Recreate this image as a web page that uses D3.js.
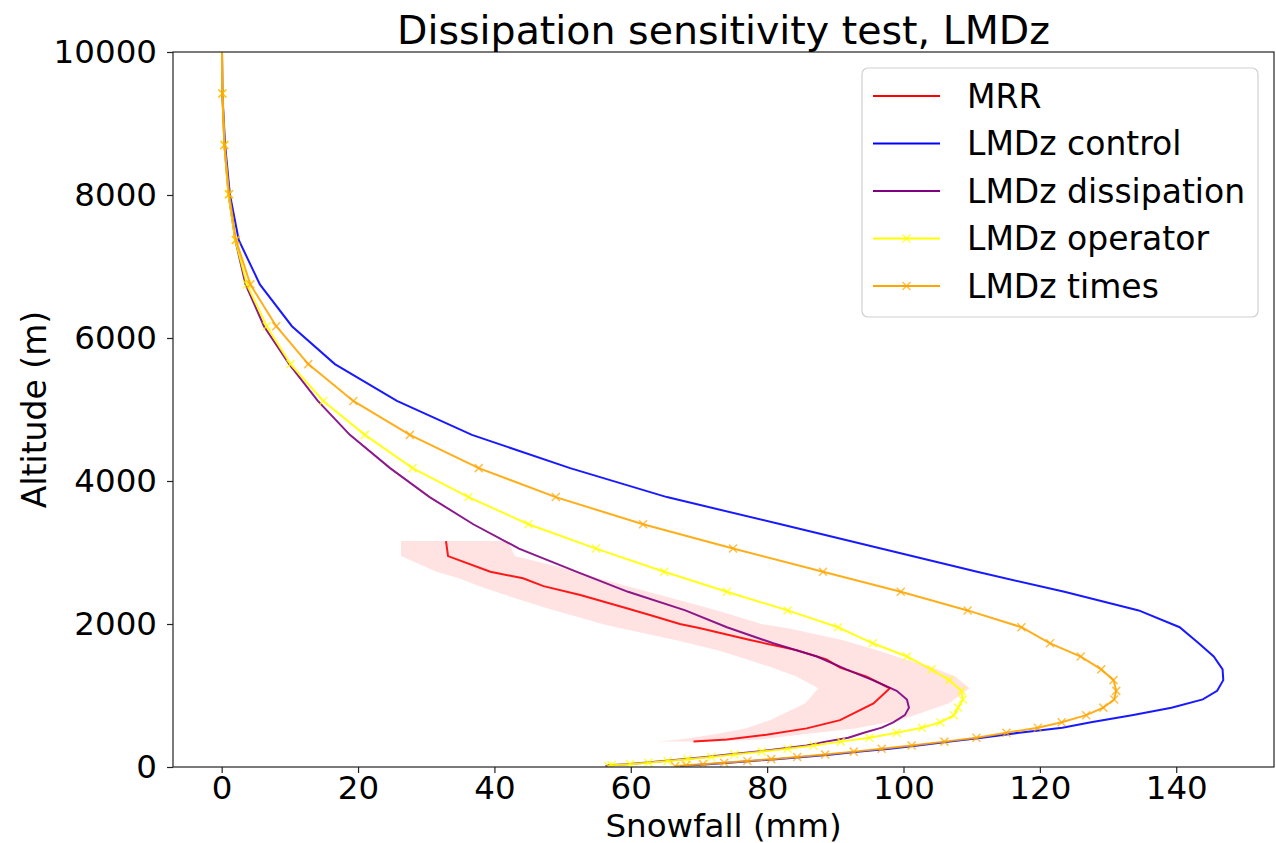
<!DOCTYPE html>
<html>
<head>
<meta charset="utf-8">
<script src="https://cdn.jsdelivr.net/npm/d3@7"></script>
<style>
    body { margin: 0; background: #fff; }
    text { font-family: "DejaVu Sans", sans-serif; fill: #000; }
</style>
</head>
<body>
<div id="chart"></div>
<script>
// model levels (m) shared by all LMDz runs
const levels = [10500, 9420, 8700, 8010, 7370, 6750, 6165, 5635, 5120, 4645, 4180, 3775, 3395, 3055, 2730, 2450, 2190, 1955, 1730, 1545, 1365, 1215, 1065, 945, 830, 725, 625, 550, 480, 410, 355, 300, 255, 215, 175, 140, 110, 85, 60, 40, 25, 12];

const control = [0.0, 0.1, 0.5, 1.2, 2.5, 5.6, 10.3, 16.6, 25.7, 36.7, 51.1, 65.3, 82.0, 96.7, 110.8, 123.6, 134.5, 140.5, 143.3, 145.5, 146.8, 146.9, 146.0, 143.9, 139.3, 133.5, 127.5, 123.3, 117.0, 111.5, 106.8, 102.1, 98.0, 93.6, 89.5, 85.3, 81.3, 77.8, 74.4, 71.3, 69.0, 67.2];
const dissipation = [0.0, 0.1, 0.4, 1.0, 2.0, 3.5, 6.2, 9.9, 14.1, 18.8, 24.7, 30.5, 36.9, 43.6, 52.1, 59.6, 68.0, 74.1, 80.9, 87.3, 91.6, 95.5, 99.0, 100.5, 100.8, 100.2, 98.5, 96.8, 94.2, 91.9, 88.6, 85.8, 82.0, 78.3, 74.3, 71.0, 67.6, 64.8, 62.0, 59.4, 56.8, 56.3];
const operator = [0.0, 0.1, 0.4, 1.0, 2.0, 3.7, 6.6, 10.1, 14.9, 21.0, 28.0, 36.2, 45.0, 54.9, 64.9, 74.1, 83.0, 90.4, 95.5, 100.5, 104.1, 106.7, 108.5, 108.7, 108.0, 107.4, 105.4, 102.7, 99.0, 95.0, 90.8, 86.8, 83.0, 79.2, 75.2, 71.8, 68.3, 65.4, 62.6, 59.9, 57.2, 56.7];
const times = [0.0, 0.1, 0.4, 1.1, 2.1, 4.2, 8.0, 12.7, 19.3, 27.6, 37.7, 49.0, 61.8, 75.0, 88.2, 99.6, 109.4, 117.3, 121.5, 126.0, 129.0, 130.8, 131.2, 130.9, 129.3, 126.8, 123.2, 119.7, 115.1, 110.7, 106.0, 101.2, 96.8, 92.7, 88.5, 84.4, 80.6, 77.1, 73.7, 70.6, 68.1, 66.5];

// MRR observations and spread
const mrrAlt = [3160, 2950, 2730, 2640, 2530, 2405, 2220, 2125, 2000, 1940, 1775, 1635, 1505, 1390, 1265, 1100, 890, 655, 540, 450, 385, 355];
const mrrSnow = [32.9, 33.2, 39.4, 44.2, 47.2, 52.6, 59.4, 62.8, 67.2, 70.2, 77.5, 84.3, 88.7, 90.7, 94.6, 98.0, 95.6, 90.7, 85.8, 79.9, 74.1, 69.2];
const mrrLow = [26.3, 26.3, 31.5, 34.8, 37.7, 41.6, 47.7, 51.2, 55.8, 58.5, 66.5, 72.6, 77.1, 80.7, 84.3, 87.5, 85.6, 80.4, 76.8, 71.9, 67.2, 64.0];
const mrrHigh = [42.0, 43.0, 52.3, 55.3, 59.4, 64.3, 71.5, 74.9, 79.2, 83.1, 91.0, 96.0, 100.3, 104.3, 107.6, 109.7, 106.7, 99.5, 92.9, 84.8, 79.0, 72.0];

const xTicks = [0, 20, 40, 60, 80, 100, 120, 140];
const yTicks = [0, 2000, 4000, 6000, 8000, 10000];

const margin = { top: 52, right: 2, bottom: 76, left: 173 };
const width = 1276 - margin.left - margin.right;
const height = 843 - margin.top - margin.bottom;

const root = d3.select('#chart').append('svg')
    .attr('width', 1276)
    .attr('height', 843);

const svg = root.append('g')
    .attr('transform', `translate(${margin.left},${margin.top})`);

// scales
const xScale = d3.scaleLinear().domain([-7.14, 154.34]).range([0, width]);
const yScale = d3.scaleLinear().domain([0, 10000]).range([height, 0]);

svg.append('clipPath').attr('id', 'plot-clip')
    .append('rect').attr('width', width).attr('height', height);

const plot = svg.append('g').attr('clip-path', 'url(#plot-clip)');

// MRR spread
const band = d3.area()
    .y(d => yScale(d.alt))
    .x0(d => xScale(d.lo))
    .x1(d => xScale(d.hi));

const bandData = mrrAlt.map((a, i) => ({ alt: a, lo: mrrLow[i], hi: mrrHigh[i] }));
plot.append('path')
    .datum(bandData)
    .attr('fill', 'red')
    .attr('fill-opacity', 0.11)
    .attr('d', band);

const line = d3.line()
    .x(d => xScale(d[0]))
    .y(d => yScale(d[1]));

const series = [
    { name: 'MRR', color: 'red', alt: mrrAlt, vals: mrrSnow, marker: false },
    { name: 'LMDz control', color: 'blue', alt: levels, vals: control, marker: false },
    { name: 'LMDz dissipation', color: 'purple', alt: levels, vals: dissipation, marker: false },
    { name: 'LMDz operator', color: 'yellow', alt: levels, vals: operator, marker: true },
    { name: 'LMDz times', color: 'orange', alt: levels, vals: times, marker: true }
];

const xMark = 'M-4,-4L4,4M-4,4L4,-4';

series.forEach(s => {
    const pts = s.vals.map((v, i) => [v, s.alt[i]]);
    plot.append('path')
        .datum(pts)
        .attr('fill', 'none')
        .attr('stroke', s.color)
        .attr('stroke-width', 2)
        .attr('stroke-opacity', 0.9)
        .attr('d', line);
    if (s.marker) {
        plot.selectAll(null)
            .data(pts)
            .enter().append('path')
            .attr('d', xMark)
            .attr('transform', d => `translate(${xScale(d[0])},${yScale(d[1])})`)
            .attr('fill', 'none')
            .attr('stroke', s.color)
            .attr('stroke-width', 1.5)
            .attr('stroke-opacity', 0.7);
    }
});

// axes
const xAxis = svg.append('g')
    .attr('transform', `translate(0,${height})`)
    .call(d3.axisBottom(xScale).tickValues(xTicks).tickSize(6).tickPadding(3));
const yAxis = svg.append('g')
    .call(d3.axisLeft(yScale).tickValues(yTicks).tickFormat(d3.format('d')).tickSize(6).tickPadding(10));

[xAxis, yAxis].forEach(a => {
    a.select('.domain').remove();
    a.selectAll('line').attr('stroke', '#222').attr('stroke-width', 1.2);
    a.selectAll('text').attr('font-size', '32.5px').attr('font-family', 'DejaVu Sans').attr('fill', '#000');
});

// frame
svg.append('rect')
    .attr('width', width)
    .attr('height', height)
    .attr('fill', 'none')
    .attr('stroke', '#222')
    .attr('stroke-width', 1.2);

// labels
svg.append('text')
    .attr('x', width / 2)
    .attr('y', height + 69.5)
    .attr('text-anchor', 'middle')
    .attr('font-size', '32.5px')
    .text('Snowfall (mm)');

svg.append('text')
    .attr('transform', 'rotate(-90)')
    .attr('x', -height / 2)
    .attr('y', 46 - margin.left)
    .attr('text-anchor', 'middle')
    .attr('font-size', '33px')
    .text('Altitude (m)');

svg.append('text')
    .attr('x', width / 2)
    .attr('y', -8)
    .attr('text-anchor', 'middle')
    .attr('font-size', '39.5px')
    .text('Dissipation sensitivity test, LMDz');

// legend
const legend = root.append('g').attr('transform', 'translate(862,68)');
legend.append('rect')
    .attr('width', 396)
    .attr('height', 249)
    .attr('rx', 6)
    .attr('fill', 'white')
    .attr('fill-opacity', 0.8)
    .attr('stroke', '#d0d0d0')
    .attr('stroke-width', 1.2);

series.forEach((s, i) => {
    const yy = 28 + i * 47.5;
    legend.append('line')
        .attr('x1', 11).attr('x2', 78)
        .attr('y1', yy).attr('y2', yy)
        .attr('stroke', s.color)
        .attr('stroke-width', 2);
    if (s.marker) {
        legend.append('path')
            .attr('d', xMark)
            .attr('transform', `translate(44.5,${yy})`)
            .attr('fill', 'none')
            .attr('stroke', s.color)
            .attr('stroke-width', 1.5)
            .attr('stroke-opacity', 0.7);
    }
    legend.append('text')
        .attr('x', 105)
        .attr('y', yy)
        .attr('dy', '0.35em')
        .attr('font-size', '33px')
        .text(s.name);
});
</script>
</body>
</html>
